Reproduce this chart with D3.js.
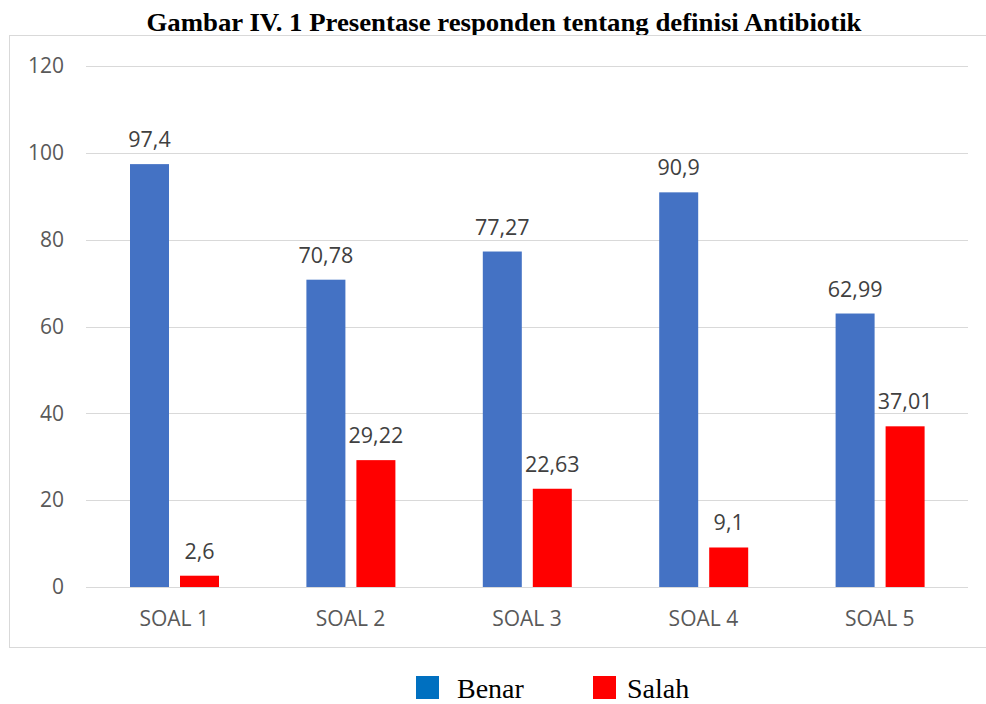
<!DOCTYPE html>
<html>
<head>
<meta charset="utf-8">
<script src="https://cdn.jsdelivr.net/npm/d3@7"></script>
<style>
  body { margin: 0; background: #fff; }
  svg { display: block; }
</style>
</head>
<body>
<svg width="986" height="704"></svg>
<script>
// data
var categories = ["SOAL 1", "SOAL 2", "SOAL 3", "SOAL 4", "SOAL 5"];
var series = ["Benar", "Salah"];
var benar = [97.4, 70.78, 77.27, 90.9, 62.99];
var salah = [2.6, 29.22, 22.63, 9.1, 37.01];
var benarLabels = ["97,4", "70,78", "77,27", "90,9", "62,99"];
var salahLabels = ["2,6", "29,22", "22,63", "9,1", "37,01"];
var yTicks = [0, 20, 40, 60, 80, 100, 120];

var barColor = { "Benar": "#4472C4", "Salah": "#FF0000" };
var legendColor = { "Benar": "#0070C0", "Salah": "#FF0000" };

var svg = d3.select("svg");
var labelFont = "'Open Sans', 'Noto Sans', sans-serif";

var rows = categories.map(function(c, i) {
  return {
    cat: c,
    vals: [
      { key: "Benar", v: benar[i], label: benarLabels[i] },
      { key: "Salah", v: salah[i], label: salahLabels[i] }
    ]
  };
});

// title
svg.append("text")
  .attr("x", 504)
  .attr("y", 31)
  .attr("text-anchor", "middle")
  .attr("textLength", 715)
  .attr("lengthAdjust", "spacingAndGlyphs")
  .style("font-family", "'Liberation Serif', 'Times New Roman', serif")
  .style("font-weight", "bold")
  .style("font-size", "25px")
  .style("fill", "#000")
  .text("Gambar IV. 1 Presentase responden tentang definisi Antibiotik");

// chart frame
svg.append("rect")
  .attr("x", 9.5)
  .attr("y", 35.5)
  .attr("width", 990)
  .attr("height", 612)
  .attr("fill", "none")
  .attr("stroke", "#d9d9d9")
  .attr("stroke-width", 1);

var y = d3.scaleLinear().domain([0, 120]).range([587, 66]);
var x0 = d3.scaleBand().domain(categories).range([86, 968]).padding(0);
var x1 = d3.scaleBand().domain(series).range([44, 133]).paddingInner(0.22).paddingOuter(0);

// gridlines
svg.append("g")
  .selectAll("line")
  .data(yTicks)
  .enter().append("line")
  .attr("x1", 86)
  .attr("x2", 968)
  .attr("y1", d => Math.round(y(d)) + 0.5)
  .attr("y2", d => Math.round(y(d)) + 0.5)
  .attr("stroke", "#d9d9d9")
  .attr("stroke-width", 1);

// y axis labels
var yAxis = d3.axisLeft(y).tickValues(yTicks).tickSize(0).tickPadding(0);
var yg = svg.append("g")
  .attr("transform", "translate(64,0)")
  .call(yAxis);
yg.select(".domain").remove();
yg.selectAll("text")
  .style("font-family", labelFont)
  .style("font-size", "21px")
  .style("fill", "#595959");

// x axis labels
var xAxis = d3.axisBottom(x0).tickSize(0).tickPadding(0);
var xg = svg.append("g")
  .attr("transform", "translate(0,611)")
  .call(xAxis);
xg.select(".domain").remove();
xg.selectAll("text")
  .style("font-family", labelFont)
  .style("font-size", "21px")
  .style("fill", "#595959");

// bars
var groups = svg.append("g")
  .selectAll("g")
  .data(rows)
  .enter().append("g")
  .attr("transform", d => "translate(" + x0(d.cat) + ",0)");

groups.selectAll("rect")
  .data(d => d.vals)
  .enter().append("rect")
  .attr("x", d => x1(d.key))
  .attr("width", x1.bandwidth())
  .attr("y", d => y(d.v))
  .attr("height", d => y(0) - y(d.v))
  .attr("fill", d => barColor[d.key]);

groups.selectAll("text")
  .data(d => d.vals)
  .enter().append("text")
  .attr("x", d => x1(d.key) + x1.bandwidth() / 2)
  .attr("y", d => y(d.v) - 17)
  .attr("text-anchor", "middle")
  .style("font-family", labelFont)
  .style("font-size", "21.5px")
  .style("fill", "#404040")
  .text(d => d.label);

// legend
var legend = svg.append("g")
  .selectAll("g")
  .data(series)
  .enter().append("g")
  .attr("transform", (d, i) => "translate(" + (416 + i * 177) + ",0)");

legend.append("rect")
  .attr("x", 0)
  .attr("y", 676)
  .attr("width", 23)
  .attr("height", 23)
  .attr("fill", d => legendColor[d]);

legend.append("text")
  .attr("x", (d, i) => i === 0 ? 41 : 34)
  .attr("y", 698)
  .style("font-family", "'Liberation Serif', 'Times New Roman', serif")
  .style("font-size", "28px")
  .style("fill", "#000")
  .text(d => d);
</script>
</body>
</html>
